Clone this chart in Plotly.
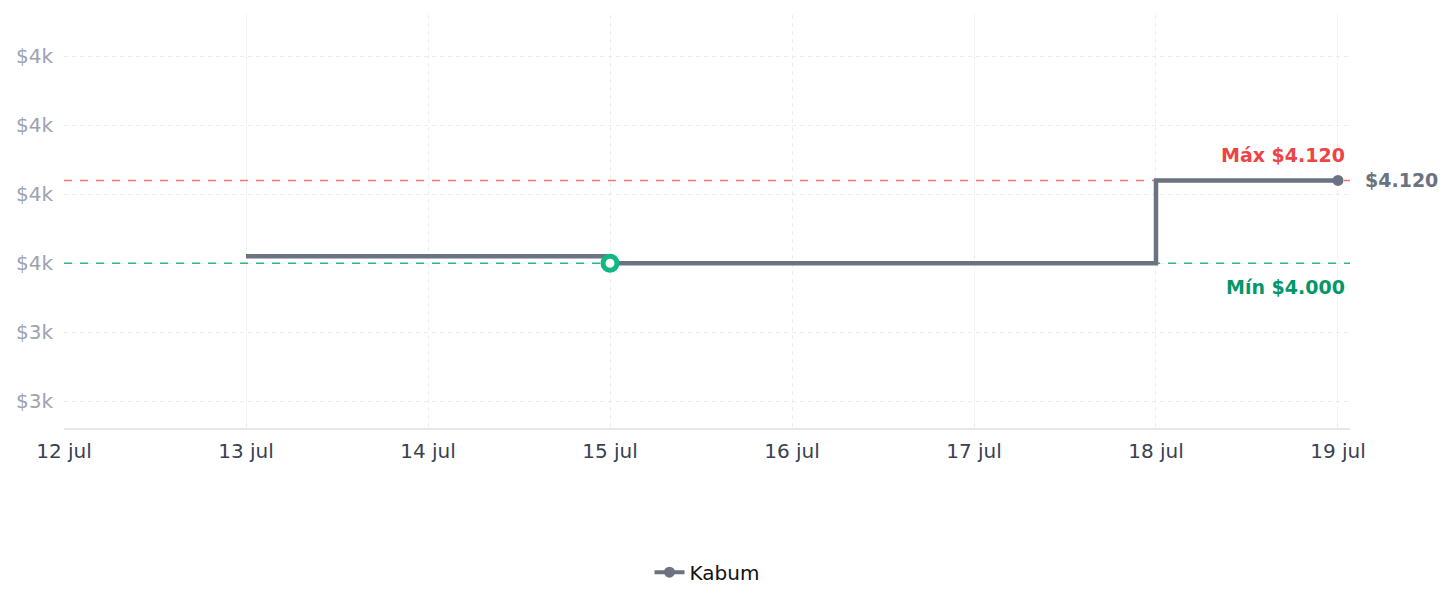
import plotly.graph_objects as go

dates = ["2024-07-13", "2024-07-14", "2024-07-15", "2024-07-16", "2024-07-17", "2024-07-18", "2024-07-19"]
prices = [4010, 4010, 4000, 4000, 4000, 4120, 4120]
series_name = "Kabum"
max_price = 4120
min_price = 4000
min_date = "2024-07-15"
last_date = "2024-07-19"
last_price = 4120
y_tickvals = [3800, 3900, 4000, 4100, 4200, 4300]
y_ticktext = ["$3k", "$3k", "$4k", "$4k", "$4k", "$4k"]
x_tickvals = ["2024-07-12", "2024-07-13", "2024-07-14", "2024-07-15", "2024-07-16", "2024-07-17", "2024-07-18", "2024-07-19"]
x_ticktext = ["12 jul", "13 jul", "14 jul", "15 jul", "16 jul", "17 jul", "18 jul", "19 jul"]

LINE = "#6b7280"
FONT = "DejaVu Sans"
X_RANGE = ["2024-07-12", "2024-07-19 01:35"]

fig = go.Figure()
# reference lines (drawn under the series, above the grid)
fig.add_trace(go.Scatter(x=X_RANGE, y=[max_price, max_price], mode="lines", showlegend=False, hoverinfo="skip",
                         line=dict(color="#f87171", width=1.5, dash="8px,8px")))
fig.add_trace(go.Scatter(x=X_RANGE, y=[min_price, min_price], mode="lines", showlegend=False, hoverinfo="skip",
                         line=dict(color="#34b38a", width=1.5, dash="8px,8px")))

fig.add_trace(go.Scatter(x=dates, y=prices, mode="lines", line=dict(color=LINE, width=4.5, shape="hv"),
                         showlegend=False, hoverinfo="skip"))
fig.add_trace(go.Scatter(x=[min_date], y=[min_price], mode="markers",
                         marker=dict(size=14, color="white", line=dict(color="#10b981", width=5)),
                         showlegend=False))
fig.add_trace(go.Scatter(x=[last_date], y=[last_price], mode="markers",
                         marker=dict(size=11, color=LINE), showlegend=False))
fig.add_trace(go.Scatter(x=[None], y=[None], mode="lines+markers", name=series_name,
                         line=dict(color=LINE, width=4), marker=dict(size=11, color=LINE)))

fig.add_annotation(x=1, xref="paper", xanchor="right", xshift=-3, y=max_price, yanchor="bottom", yshift=12,
                   text="<b>Máx $4.120</b>", showarrow=False, font=dict(family=FONT, size=19, color="#ef4444"))
fig.add_annotation(x=1, xref="paper", xanchor="right", xshift=-3, y=min_price, yanchor="top", yshift=-11,
                   text="<b>Mín $4.000</b>", showarrow=False, font=dict(family=FONT, size=19, color="#059669"))
fig.add_annotation(x=1, xref="paper", xanchor="left", xshift=13, y=last_price, yanchor="middle",
                   text="<b>$4.120</b>", showarrow=False, font=dict(family=FONT, size=19, color=LINE))

fig.update_layout(
    width=1452, height=607,
    margin=dict(l=64, r=102, t=15, b=179),
    paper_bgcolor="white", plot_bgcolor="white",
    font=dict(family=FONT, size=20),
    legend=dict(orientation="h", x=0.5, xanchor="center", y=-0.349, yanchor="middle",
                font=dict(family=FONT, size=20, color="#111111")),
    xaxis=dict(range=X_RANGE, tickvals=x_tickvals, ticktext=x_ticktext,
               showgrid=True, gridcolor="#ececec", griddash="4px,4px", gridwidth=1,
               showline=True, linecolor="#e5e7eb", linewidth=2, zeroline=False,
               tickfont=dict(color="#374151", size=20), ticks="", ticklabelstandoff=4),
    yaxis=dict(range=[3761, 4360], tickvals=y_tickvals, ticktext=y_ticktext,
               showgrid=True, gridcolor="#ececec", griddash="4px,4px", gridwidth=1,
               showline=False, zeroline=False,
               tickfont=dict(color="#9ca3af", size=20), ticks="", ticklabelstandoff=10),
)

fig.write_html("out.html")
